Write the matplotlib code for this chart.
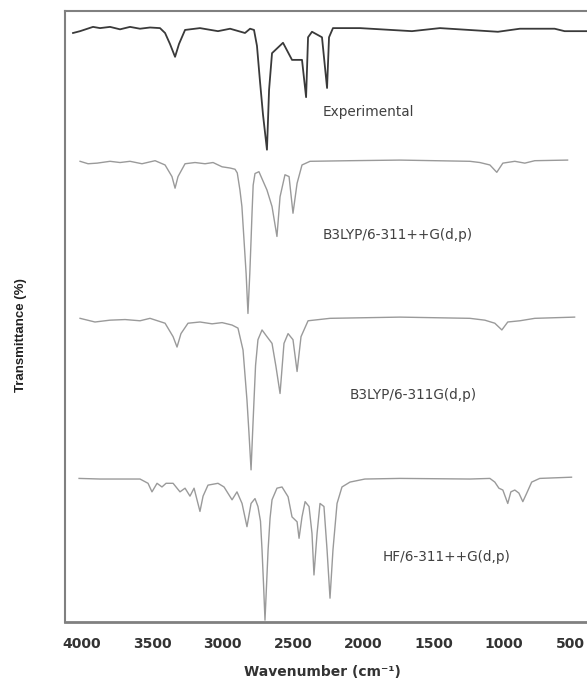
import matplotlib
matplotlib.use("Agg")
import matplotlib.pyplot as plt
import matplotlib.transforms as mtransforms

# stacked IR spectra (wavenumber cm-1, offset transmittance)
exp_wn = [4062, 4012, 3920, 3870, 3799, 3728, 3657, 3586, 3515, 3444, 3408, 3373, 3337, 3309,
          3266, 3160, 3032, 2946, 2840, 2804, 2776, 2755, 2734, 2712, 2684, 2669, 2648, 2570,
          2506, 2435, 2406, 2392, 2364, 2293, 2257, 2243, 2215, 2023, 1654, 1455, 1043, 887,
          640, 569, 413]
exp_t = [96.4, 96.7, 97.4, 97.2, 97.4, 97.0, 97.4, 97.1, 97.3, 97.2, 96.4, 94.6, 92.5, 94.6,
         96.9, 97.2, 96.7, 97.1, 96.4, 97.1, 96.9, 94.3, 88.6, 83.0, 77.3, 87.1, 93.1, 94.8,
         92.0, 92.0, 85.9, 95.7, 96.6, 95.7, 87.4, 95.7, 97.2, 97.2, 96.7, 97.2, 96.6, 97.1,
         97.1, 96.7, 96.7]

b3_diff_wn = [4012, 3955, 3891, 3799, 3728, 3657, 3572, 3479, 3408, 3359, 3337, 3316, 3266,
              3195, 3124, 3067, 3003, 2946, 2911, 2895, 2876, 2862, 2847, 2832, 2819, 2806,
              2797, 2790, 2782, 2769, 2741, 2705, 2684, 2648, 2613, 2591, 2556, 2527, 2499,
              2470, 2435, 2378, 2094, 1739, 1242, 1171, 1100, 1051, 1008, 923, 852, 781, 548]
b3_diff_t = [75.4, 75.0, 75.1, 75.4, 75.2, 75.4, 75.0, 75.5, 74.8, 72.9, 71.0, 72.9, 75.0,
             75.2, 75.0, 75.2, 74.5, 74.3, 74.1, 73.5, 70.7, 68.0, 62.5, 57.0, 50.5, 57.0,
             62.5, 67.0, 71.5, 73.4, 73.7, 71.8, 70.7, 68.0, 63.1, 69.6, 73.2, 72.9, 66.9,
             71.8, 74.8, 75.4, 75.5, 75.6, 75.4, 75.2, 74.8, 73.6, 75.1, 75.4, 75.1, 75.5, 75.6]

b3_wn = [4012, 3906, 3799, 3692, 3586, 3515, 3408, 3351, 3323, 3295, 3245, 3160, 3074, 3003,
         2932, 2890, 2854, 2826, 2812, 2797, 2786, 2776, 2765, 2748, 2719, 2684, 2648, 2620,
         2591, 2563, 2534, 2499, 2470, 2442, 2392, 2236, 1739, 1242, 1136, 1065, 1015, 973,
         887, 781, 498]
b3_t = [49.7, 49.1, 49.4, 49.5, 49.3, 49.7, 48.9, 46.7, 45.0, 47.2, 48.9, 49.1, 48.8, 49.0,
        48.6, 48.1, 44.5, 36.3, 31.0, 24.9, 31.0, 36.3, 42.0, 46.2, 47.8, 46.7, 45.6, 41.8,
        37.4, 45.6, 47.2, 46.2, 41.0, 46.7, 49.3, 49.7, 49.9, 49.7, 49.4, 48.9, 47.8, 49.1,
        49.3, 49.7, 49.9]

hf_wn = [4019, 3870, 3728, 3586, 3529, 3501, 3465, 3430, 3401, 3351, 3302, 3266, 3231, 3202,
         3181, 3160, 3138, 3103, 3032, 2989, 2932, 2897, 2861, 2826, 2797, 2769, 2748, 2730,
         2719, 2708, 2698, 2687, 2676, 2662, 2648, 2613, 2577, 2534, 2506, 2470, 2456, 2435,
         2413, 2385, 2364, 2350, 2328, 2307, 2279, 2257, 2236, 2215, 2186, 2151, 2094, 1988,
         1739, 1242, 1100, 1065, 1036, 1008, 973, 951, 923, 894, 866, 838, 803, 746, 520]
hf_t = [23.5, 23.4, 23.4, 23.4, 22.7, 21.3, 22.7, 22.1, 22.7, 22.7, 21.3, 21.9, 20.6, 21.9,
        20.0, 18.1, 20.6, 22.4, 22.7, 22.1, 20.0, 21.3, 19.4, 15.6, 19.4, 20.2, 18.9, 16.5,
        11.8, 6.0, 0.3, 6.0, 11.8, 17.0, 20.0, 21.9, 22.1, 20.5, 17.2, 16.4, 13.7, 17.2,
        19.7, 18.9, 14.5, 7.7, 14.5, 19.4, 18.9, 11.8, 3.9, 11.8, 19.4, 22.1, 22.9, 23.4,
        23.5, 23.4, 23.5, 22.9, 21.9, 21.6, 19.4, 21.3, 21.6, 21.1, 19.7, 21.1, 22.9, 23.5,
        23.7]

labels = ["Experimental", "B3LYP/6-311++G(d,p)", "B3LYP/6-311G(d,p)", "HF/6-311++G(d,p)"]
xticks = [4000, 3500, 3000, 2500, 2000, 1500, 1000, 500]

fig = plt.figure(figsize=(5.87, 6.78), dpi=100)
ax = fig.add_axes([65 / 587, 56 / 678, 522 / 587, 611 / 678])

ax.plot(exp_wn, exp_t, color="#3a3a3a", lw=1.3)
ax.plot(b3_diff_wn, b3_diff_t, color="#9a9a9a", lw=1.0)
ax.plot(b3_wn, b3_t, color="#9a9a9a", lw=1.0)
ax.plot(hf_wn, hf_t, color="#9a9a9a", lw=1.0)

# curve names, placed next to each spectrum
label_pos = [(2286, 83.5), (2286, 63.3), (2094, 37.2), (1859, 10.6)]
for txt, (lx, ly) in zip(labels, label_pos):
    ax.text(lx, ly, txt, fontsize=9.8, color="#404040", ha="left", va="center",
            family="DejaVu Sans")

ax.set_xlim(4119, 410)
ax.set_ylim(0, 100)
ax.set_xticks(xticks)
ax.set_xticklabels([str(t) for t in xticks], fontweight="bold", fontsize=10,
                   color="#333333", family="DejaVu Sans")
ax.tick_params(axis="x", length=0, pad=11)
ax.set_yticks([])

# last tick label sits on the figure edge, nudge it in a few pixels
last = ax.get_xticklabels()[-1]
last.set_transform(last.get_transform() + mtransforms.ScaledTranslation(-4 / 100, 0, fig.dpi_scale_trans))

for side in ["left", "top", "bottom"]:
    ax.spines[side].set_color("#808080")
    ax.spines[side].set_linewidth(1.5)
ax.spines["bottom"].set_linewidth(2.0)
ax.spines["right"].set_visible(False)

fig.text(322 / 587, 1 - 672 / 678, "Wavenumber (cm\u207b\u00b9)", ha="center", va="center",
         fontsize=10, fontweight="bold", color="#333333", family="DejaVu Sans")
fig.text(21 / 587, 1 - 335 / 678, "Transmittance (%)", ha="center", va="center",
         rotation=90, fontsize=9.5, fontweight="bold", color="#222222",
         family="Liberation Sans")

fig.savefig("out.png", dpi=100)
